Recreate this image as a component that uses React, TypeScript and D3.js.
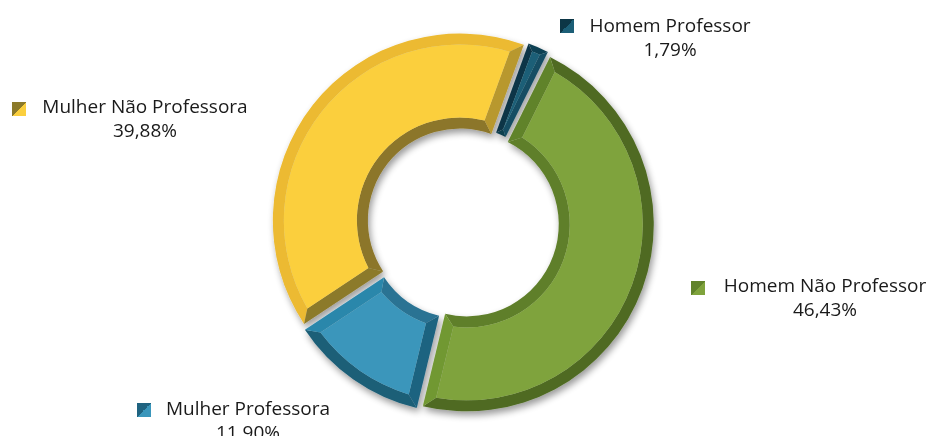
import React from "react";
import * as d3 from "d3";

const categories = ["Homem Professor", "Homem Não Professor", "Mulher Professora", "Mulher Não Professora"];
const values = [1.79, 46.43, 11.9, 39.88];
const valueLabels = ["1,79%", "46,43%", "11,90%", "39,88%"];

const faceColors = ["#1c5f77", "#7fa33c", "#3a96bb", "#fbcf3e"];
const outerBandColors = ["#0f4152", "#4f6b23", "#1d5e77", "#ecba30"];
const innerBandColors = ["#0f3f50", "#5f7f2a", "#2a7393", "#8c7629"];
const startSideColors = ["#0c3646", "#61832b", "#1f6380", "#8c7a2a"];
const endSideColors = ["#134d63", "#719833", "#2b87ab", "#b8982f"];

const W = 933;
const H = 436;
const cx = 463;
const cy = 223;
const R = 187;
const r0 = 92;
const bevel = 11;
const explode = 4;
const startDeg = 20;

// label layout: [markerX, markerY, textCenterX, baseline1]
const labelLayout = [
  [560, 19, 670, 32],
  [691, 281, 825, 292],
  [137, 403, 248, 415],
  [12, 102, 145, 113],
];

const H_PI = Math.PI / 2;
const P = (t: number, p: number): [number, number] => [p * Math.sin(t), -p * Math.cos(t)];

function slicePaths(a0: number, a1: number, r: number, Ro: number, b: number) {
  const po = Ro - b;
  const pi = r + b;
  const dO = Math.asin(Math.min(1, b / po));
  const dI = Math.asin(Math.min(1, b / pi));
  const mid = (a0 + a1) / 2;
  let o0 = a0 + dO, o1 = a1 - dO;
  if (o0 > o1) { o0 = mid; o1 = mid; }
  let i0 = a0 + dI, i1 = a1 - dI;
  if (i0 > i1) { i0 = mid; i1 = mid; }

  const outer = d3.path();
  outer.moveTo(...P(a0, Ro));
  outer.arc(0, 0, Ro, a0 - H_PI, a1 - H_PI, false);
  outer.lineTo(...P(o1, po));
  outer.arc(0, 0, po, o1 - H_PI, o0 - H_PI, true);
  outer.closePath();

  const inner = d3.path();
  inner.moveTo(...P(a0, r));
  inner.arc(0, 0, r, a0 - H_PI, a1 - H_PI, false);
  inner.lineTo(...P(i1, pi));
  inner.arc(0, 0, pi, i1 - H_PI, i0 - H_PI, true);
  inner.closePath();

  const s = d3.path();
  s.moveTo(...P(a0, r));
  s.lineTo(...P(a0, Ro));
  s.lineTo(...P(o0, po));
  s.lineTo(...P(i0, pi));
  s.closePath();

  const e = d3.path();
  e.moveTo(...P(a1, r));
  e.lineTo(...P(a1, Ro));
  e.lineTo(...P(o1, po));
  e.lineTo(...P(i1, pi));
  e.closePath();

  const face = d3.path();
  face.moveTo(...P(o0, po));
  face.arc(0, 0, po, o0 - H_PI, o1 - H_PI, false);
  face.lineTo(...P(i1, pi));
  face.arc(0, 0, pi, i1 - H_PI, i0 - H_PI, true);
  face.closePath();

  return { outer: outer.toString(), inner: inner.toString(), s: s.toString(), e: e.toString(), face: face.toString() };
}

export default function App() {
  const start = (startDeg * Math.PI) / 180;
  const pie = d3
    .pie<number>()
    .sort(null)
    .value((d) => d)
    .startAngle(start)
    .endAngle(start + 2 * Math.PI);
  const arcs = pie(values);
  const font = "'Open Sans', 'Noto Sans', sans-serif";

  return (
    <svg width={W} height={H} style={{ position: "absolute", left: 0, top: 0 }}>
      <defs>
        <filter id="shadow" x="-20%" y="-20%" width="140%" height="140%">
          <feGaussianBlur in="SourceAlpha" stdDeviation="3.5" />
          <feOffset dx="2" dy="4" result="ob" />
          <feComponentTransfer>
            <feFuncA type="linear" slope="0.4" />
          </feComponentTransfer>
          <feMerge>
            <feMergeNode />
            <feMergeNode in="SourceGraphic" />
          </feMerge>
        </filter>
        {faceColors.map((c, i) => (
          <linearGradient key={i} id={`mk${i}`} x1="0" y1="0" x2="1" y2="1">
            <stop offset="0" stopColor={startSideColors[i]} />
            <stop offset="0.5" stopColor={startSideColors[i]} />
            <stop offset="0.5" stopColor={c} />
            <stop offset="1" stopColor={c} />
          </linearGradient>
        ))}
      </defs>
      <rect width={W} height={H} fill="#ffffff" />
      <g transform={`translate(${cx},${cy})`} filter="url(#shadow)">
        {arcs.map((a, i) => {
          const mid = (a.startAngle + a.endAngle) / 2;
          const [dx, dy] = P(mid, explode);
          const b = i === 0 ? 6 : bevel;
          const p = slicePaths(a.startAngle, a.endAngle, r0, R, b);
          return (
            <g key={i} transform={`translate(${dx},${dy})`}>
              <path d={p.outer} fill={outerBandColors[i]} />
              <path d={p.inner} fill={innerBandColors[i]} />
              <path d={p.s} fill={startSideColors[i]} />
              <path d={p.e} fill={endSideColors[i]} />
              <path d={p.face} fill={faceColors[i]} />
            </g>
          );
        })}
      </g>
      {categories.map((c, i) => {
        const [mx, my, tx, by] = labelLayout[i];
        return (
          <g key={c}>
            <rect x={mx} y={my} width={14} height={14} fill={`url(#mk${i})`} />
            <text x={tx} y={by} textAnchor="middle" fontFamily={font} fontSize={19} fill="#1a1a1a">
              {c}
            </text>
            <text x={tx} y={by + 24} textAnchor="middle" fontFamily={font} fontSize={19} fill="#1a1a1a">
              {valueLabels[i]}
            </text>
          </g>
        );
      })}
    </svg>
  );
}
